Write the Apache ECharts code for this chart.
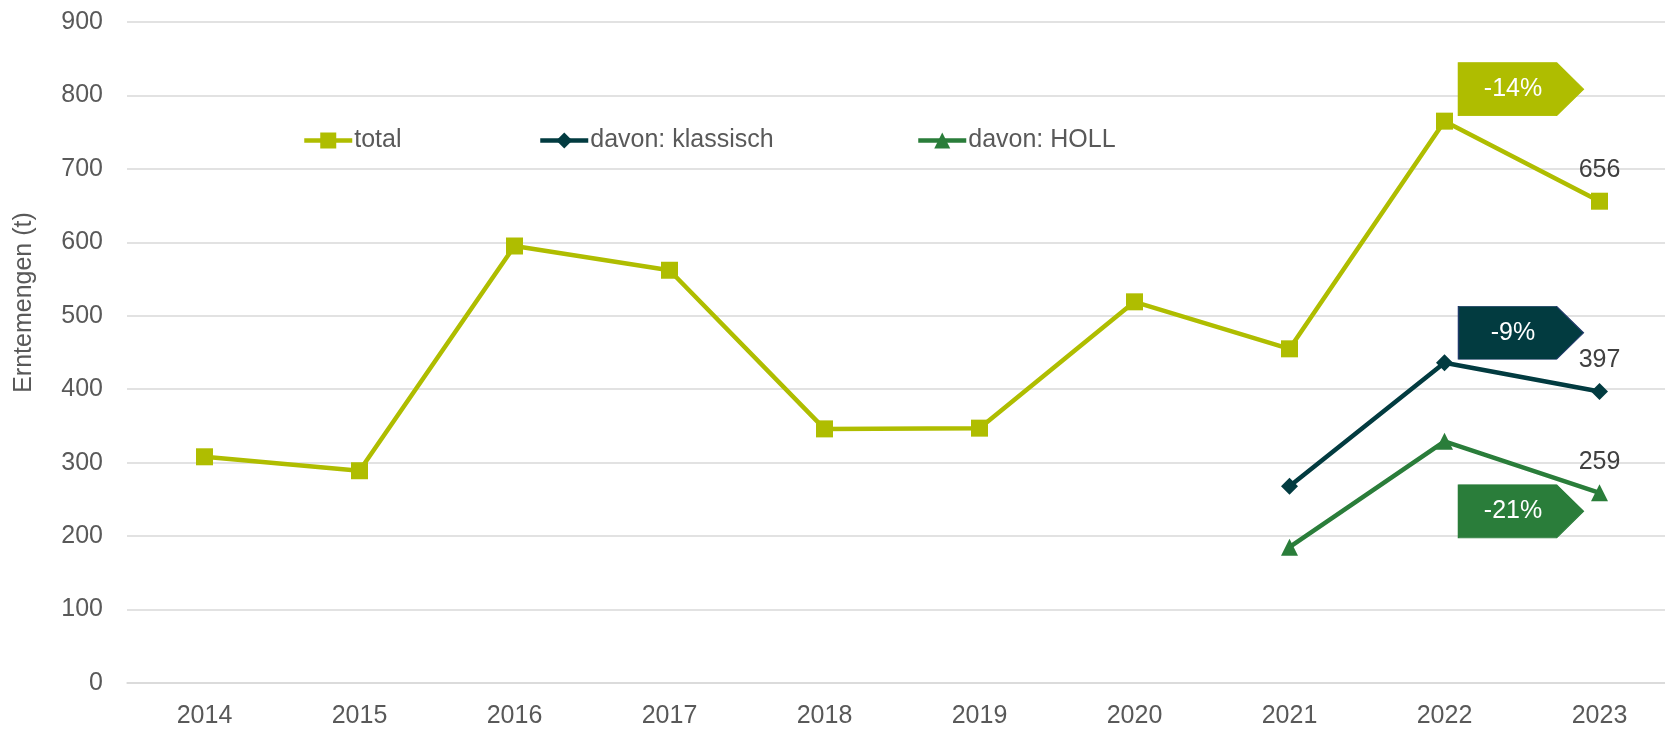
<!DOCTYPE html>
<html>
<head>
<meta charset="utf-8">
<script src="https://cdn.jsdelivr.net/npm/echarts@6/dist/echarts.min.js"></script>
<style>
  html, body { margin: 0; padding: 0; background: #fff; }
  #wrap { width: 1665px; height: 729px; overflow: hidden; position: relative; }
  /* plot area in the original runs past the right edge of the picture */
  #chart { width: 1677px; height: 729px; position: absolute; left: 0; top: 0; }
</style>
</head>
<body>
<div id="wrap"><div id="chart"></div></div>
<script>
const years = ['2014','2015','2016','2017','2018','2019','2020','2021','2022','2023'];
const total = [308, 289, 595, 562, 346, 347, 519, 455, 765, 656];
const klassisch = [null, null, null, null, null, null, null, 268, 436, 397];
const holl = [null, null, null, null, null, null, null, 185, 329, 259];
const yTicks = { min: 0, max: 900, interval: 100 };

const cTotal = '#afbd00';
const cKlass = '#023b40';
const cHoll = '#2a7d3a';
const font = 'Liberation Sans, Arial, sans-serif';

// change 2022 -> 2023 in percent
function pct(arr) {
  return Math.round((arr[9] - arr[8]) / arr[8] * 100) + '%';
}

const arrow = 'path://M0,0L98,0L125,26.5L98,53L0,53Z';

function changeBox(arr, color, dy, border) {
  return {
    symbol: arrow,
    symbolSize: [125, 53],
    silent: true,
    data: [{
      coord: ['2022', arr[8]],
      symbolOffset: [76.5, dy],
      value: pct(arr),
      itemStyle: { color: color, borderColor: border || color, borderWidth: 1 },
      label: {
        show: true, position: 'inside', offset: [-8, 0],
        color: '#fff', fontSize: 25, fontFamily: font,
        formatter: '{c}'
      }
    }]
  };
}

function lastLabel(arr) {
  return arr.map((v, i) => i === arr.length - 1 ? {
    value: v,
    label: { show: true, position: 'top', distance: 10, color: '#404040', fontSize: 25, fontFamily: font }
  } : v);
}

var myChart = echarts.init(document.getElementById('chart'));
var option = {
  animation: false,
  textStyle: { fontFamily: font },
  grid: { left: 127, top: 22, right: 0, height: 665 },
  legend: [
    { data: ['total'], left: 297 },
    { data: ['davon: klassisch'], left: 533 },
    { data: ['davon: HOLL'], left: 911 }
  ].map(l => Object.assign(l, {
    top: 123, itemWidth: 48, itemHeight: 20, itemGap: 5,
    lineStyle: { width: 4.5 },
    textStyle: { color: '#595959', fontSize: 25, fontFamily: font, padding: [0, 0, 0, -3] }
  })),
  xAxis: {
    type: 'category',
    data: years,
    axisTick: { show: false },
    axisLine: { lineStyle: { color: '#d9d9d9', width: 1.5 } },
    axisLabel: { color: '#595959', fontSize: 25, margin: 21, fontFamily: font }
  },
  yAxis: {
    type: 'value',
    min: yTicks.min, max: yTicks.max, interval: yTicks.interval,
    name: 'Erntemengen (t)',
    nameLocation: 'middle',
    nameGap: 90,
    nameTextStyle: { color: '#595959', fontSize: 25, fontFamily: font, padding: [0, 0, 0, 100] },
    axisLabel: { color: '#595959', fontSize: 25, margin: 24, fontFamily: font },
    axisLine: { show: false },
    axisTick: { show: false },
    splitLine: { lineStyle: { color: '#d9d9d9', width: 1.5 } }
  },
  series: [
    {
      name: 'total', type: 'line', data: lastLabel(total),
      symbol: 'rect', symbolSize: 17,
      lineStyle: { color: cTotal, width: 4.5 },
      itemStyle: { color: cTotal },
      markPoint: changeBox(total, cTotal, -32)
    },
    {
      name: 'davon: klassisch', type: 'line', data: lastLabel(klassisch),
      symbol: 'diamond', symbolSize: [17, 17],
      lineStyle: { color: cKlass, width: 4.5 },
      itemStyle: { color: cKlass },
      markPoint: changeBox(klassisch, cKlass, -30, '#1f3a6a')
    },
    {
      name: 'davon: HOLL', type: 'line', data: lastLabel(holl),
      symbol: 'triangle', symbolSize: 17,
      lineStyle: { color: cHoll, width: 4.5 },
      itemStyle: { color: cHoll },
      markPoint: changeBox(holl, cHoll, 70)
    }
  ]
};
myChart.setOption(option);
</script>
</body>
</html>
